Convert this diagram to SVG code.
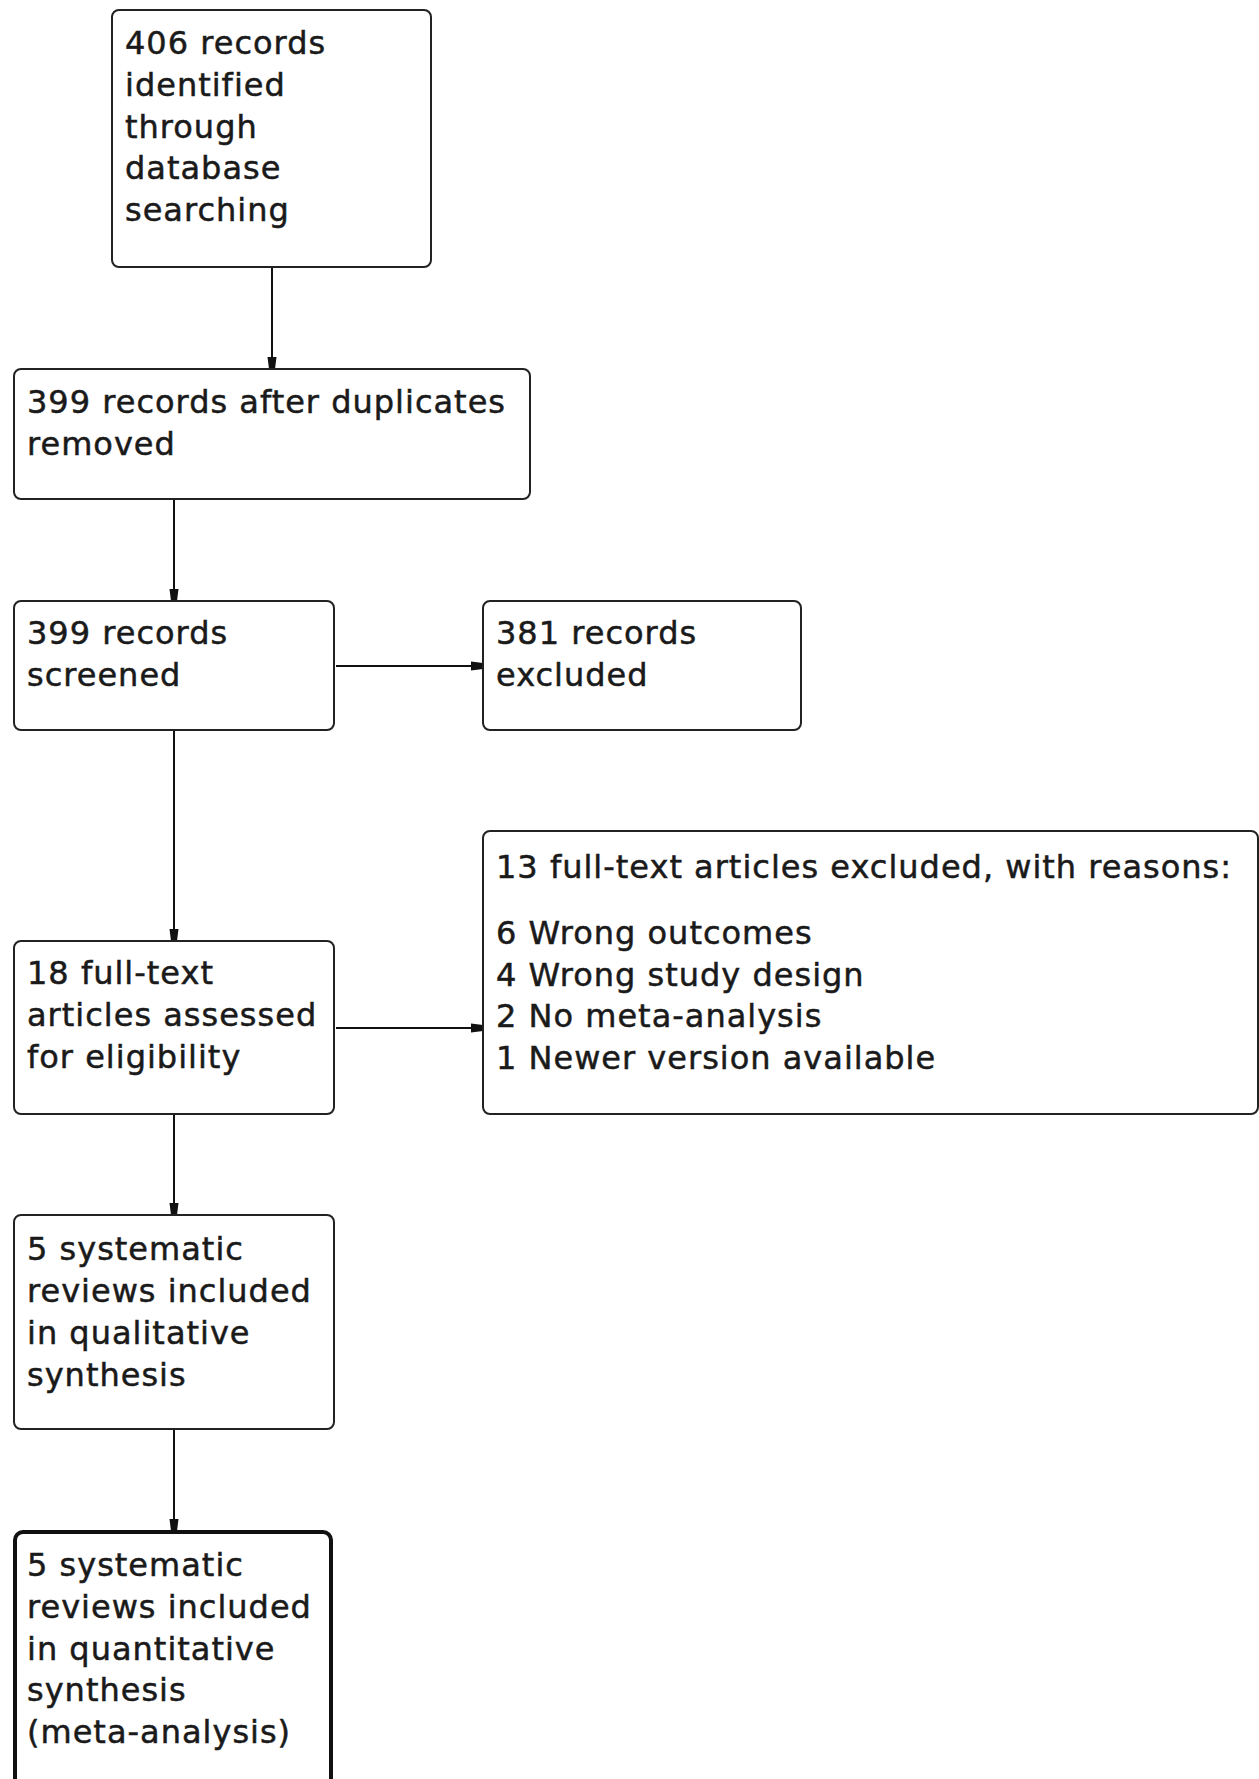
<svg xmlns="http://www.w3.org/2000/svg" width="1259" height="1779" viewBox="0 0 1259 1779">
<defs>
<style>
.box{fill:#fff;stroke:#222;stroke-width:2}
.thick{stroke-width:4;stroke:#111}
.t{font-family:"DejaVu Sans","Liberation Sans",sans-serif;font-size:32px;letter-spacing:1px;fill:#1a1a1a;stroke:#1a1a1a;stroke-width:0.5px}
.c{stroke:#111;stroke-width:2;fill:none}
</style>
<marker id="ah" markerUnits="userSpaceOnUse" markerWidth="13" markerHeight="12" refX="12" refY="6" orient="auto">
<path d="M0,1.5 L12,3 L12,9 L0,10.5 z" fill="#111"/>
</marker>
</defs>
<rect width="1259" height="1779" fill="#fff"/>
<g id="connectors">
<line class="c" x1="272" y1="267" x2="272" y2="369" marker-end="url(#ah)"/>
<line class="c" x1="174" y1="499" x2="174" y2="601" marker-end="url(#ah)"/>
<line class="c" x1="336" y1="666" x2="483" y2="666" marker-end="url(#ah)"/>
<line class="c" x1="174" y1="730" x2="174" y2="941" marker-end="url(#ah)"/>
<line class="c" x1="336" y1="1028" x2="483" y2="1028" marker-end="url(#ah)"/>
<line class="c" x1="174" y1="1114" x2="174" y2="1215" marker-end="url(#ah)"/>
<line class="c" x1="174" y1="1429" x2="174" y2="1531" marker-end="url(#ah)"/>
</g>
<g id="n1">
<rect class="box" x="112" y="10" width="319" height="257" rx="7"/>
<text class="t" x="125" y="54">406 records</text>
<text class="t" x="125" y="96">identified</text>
<text class="t" x="125" y="138">through</text>
<text class="t" x="125" y="179">database</text>
<text class="t" x="125" y="221">searching</text>
</g>
<g id="n2">
<rect class="box" x="14" y="369" width="516" height="130" rx="7"/>
<text class="t" x="27" y="413">399 records after duplicates</text>
<text class="t" x="27" y="455">removed</text>
</g>
<g id="n3">
<rect class="box" x="14" y="601" width="320" height="129" rx="7"/>
<text class="t" x="27" y="644">399 records</text>
<text class="t" x="27" y="686">screened</text>
</g>
<g id="n4">
<rect class="box" x="483" y="601" width="318" height="129" rx="7"/>
<text class="t" x="496" y="644">381 records</text>
<text class="t" x="496" y="686">excluded</text>
</g>
<g id="n5">
<rect class="box" x="483" y="831" width="775" height="283" rx="7"/>
<text class="t" x="496" y="878">13 full-text articles excluded, with reasons:</text>
<text class="t" x="496" y="944">6 Wrong outcomes</text>
<text class="t" x="496" y="986">4 Wrong study design</text>
<text class="t" x="496" y="1027">2 No meta-analysis</text>
<text class="t" x="496" y="1069">1 Newer version available</text>
</g>
<g id="n6">
<rect class="box" x="14" y="941" width="320" height="173" rx="7"/>
<text class="t" x="27" y="984">18 full-text</text>
<text class="t" x="27" y="1026">articles assessed</text>
<text class="t" x="27" y="1068">for eligibility</text>
</g>
<g id="n7">
<rect class="box" x="14" y="1215" width="320" height="214" rx="7"/>
<text class="t" x="27" y="1260">5 systematic</text>
<text class="t" x="27" y="1302">reviews included</text>
<text class="t" x="27" y="1344">in qualitative</text>
<text class="t" x="27" y="1386">synthesis</text>
</g>
<g id="n8">
<rect class="box thick" x="15" y="1532" width="316" height="270" rx="8"/>
<text class="t" x="27" y="1576">5 systematic</text>
<text class="t" x="27" y="1618">reviews included</text>
<text class="t" x="27" y="1660">in quantitative</text>
<text class="t" x="27" y="1701">synthesis</text>
<text class="t" x="27" y="1743">(meta-analysis)</text>
</g>
</svg>
